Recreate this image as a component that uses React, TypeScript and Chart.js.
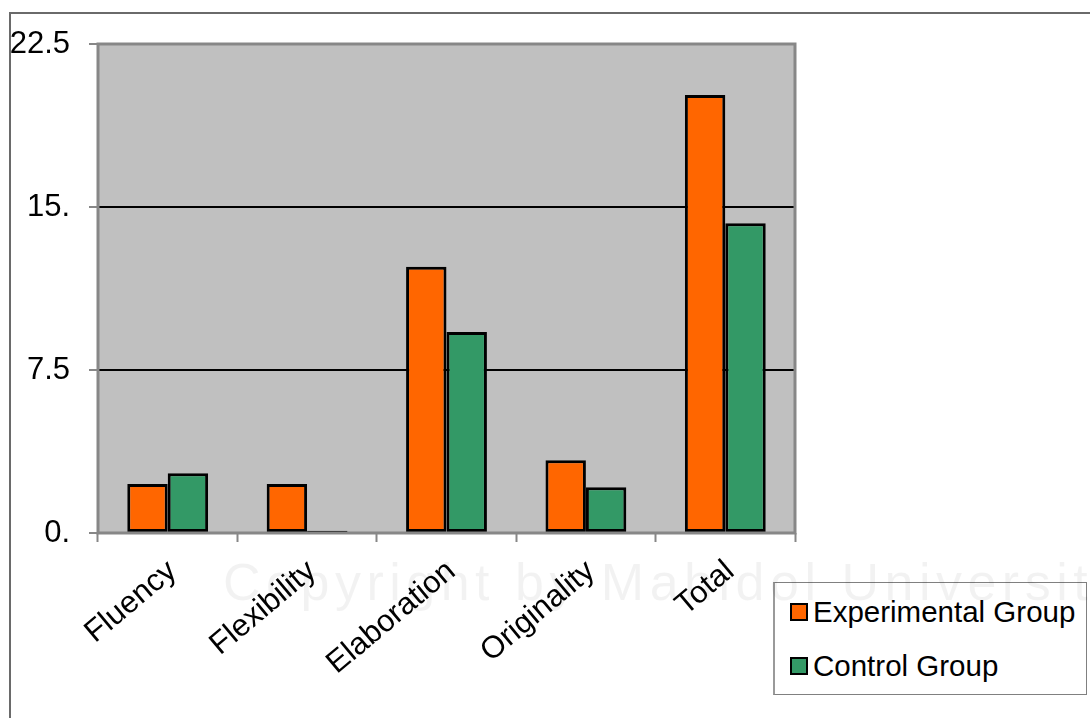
import React, { useEffect, useRef } from "react";
import { Chart, registerables } from "chart.js";

Chart.register(...registerables);

const categories = ["Fluency", "Flexibility", "Elaboration", "Originality", "Total"];
const experimentalValues = [2.25, 2.25, 12.25, 3.35, 20.15];
const controlValues = [2.75, 0.1, 9.25, 2.1, 14.25];
const seriesNames = ["Experimental Group", "Control Group"];
const seriesColors = ["#ff6600", "#339966"];
const yTickValues = [0, 7.5, 15, 22.5];
const yTickLabels = ["0.", "7.5", "15.", "22.5"];
const watermarkText = "Copyright by Mahidol University";

const FONT = "'Liberation Sans', Arial, sans-serif";
const W = 1090;
const H = 718;
const PLOT_L = 98;
const PLOT_T = 44;
const PLOT_R = 795;
const PLOT_B = 533;

const plotFramePlugin = {
  id: "plotFrame",
  beforeDraw(chart: any) {
    const { ctx, chartArea: a } = chart;
    ctx.save();
    ctx.fillStyle = "#c0c0c0";
    ctx.fillRect(a.left, a.top, a.right - a.left, a.bottom - a.top);
    ctx.restore();
  },
  afterDatasetsDraw(chart: any) {
    const { ctx, chartArea: a } = chart;
    ctx.save();
    ctx.strokeStyle = "#878787";
    ctx.lineWidth = 3;
    ctx.strokeRect(a.left, a.top, a.right - a.left, a.bottom - a.top);
    ctx.restore();
  },
};

export default function App() {
  const canvasRef = useRef<HTMLCanvasElement | null>(null);

  useEffect(() => {
    document.body.style.margin = "0";
    const canvas = canvasRef.current;
    if (!canvas) return;
    const chart = new Chart(canvas, {
      type: "bar",
      data: {
        labels: categories,
        datasets: [
          {
            label: seriesNames[0],
            data: experimentalValues,
            backgroundColor: seriesColors[0],
            borderColor: "#000000",
            borderWidth: 3,
            borderSkipped: false,
          },
          {
            label: seriesNames[1],
            data: controlValues,
            backgroundColor: seriesColors[1],
            borderColor: "#000000",
            borderWidth: 3,
            borderSkipped: false,
          },
        ],
      },
      options: {
        responsive: false,
        animation: false,
        layout: { padding: { left: 0, top: PLOT_T, right: W - PLOT_R, bottom: 0 } },
        datasets: {
          bar: { categoryPercentage: 0.58, barPercentage: 1 },
        },
        plugins: {
          legend: { display: false },
          tooltip: { enabled: false },
        },
        scales: {
          x: {
            afterFit(axis: any) {
              axis.height = H - PLOT_B;
            },
            grid: {
              offset: true,
              drawOnChartArea: false,
              drawTicks: true,
              tickLength: 9,
              tickColor: "#878787",
              tickWidth: 2,
            },
            border: { display: false },
            ticks: {
              autoSkip: false,
              maxRotation: 40,
              minRotation: 40,
              padding: 11,
              labelOffset: 5,
              color: "#000000",
              font: { family: FONT, size: 31 },
            },
          },
          y: {
            min: 0,
            max: 22.5,
            afterFit(axis: any) {
              axis.width = PLOT_L;
            },
            afterBuildTicks(axis: any) {
              axis.ticks = yTickValues.map((v) => ({ value: v }));
            },
            grid: {
              color: (c: any) =>
                c.tick && (c.tick.value === 0 || c.tick.value === 22.5) ? "rgba(0,0,0,0)" : "#000000",
              lineWidth: 2,
              drawTicks: true,
              tickLength: 9,
              tickColor: "#878787",
              tickWidth: 2,
            },
            border: { display: false },
            ticks: {
              padding: 19,
              color: "#000000",
              font: { family: FONT, size: 31 },
              callback: (_v: any, i: number) => yTickLabels[i],
            },
          },
        },
      },
      plugins: [plotFramePlugin],
    });
    return () => chart.destroy();
  }, []);

  const legendItem = (i: number, top: number) => (
    <div
      key={i}
      style={{
        position: "absolute",
        left: 15,
        top,
        height: 36,
        display: "flex",
        alignItems: "center",
        whiteSpace: "nowrap",
      }}
    >
      <div
        style={{
          width: 14,
          height: 14,
          border: "2px solid #000",
          background: seriesColors[i],
          marginRight: 5,
        }}
      />
      <span style={{ font: `29.5px ${FONT}`, color: "#000" }}>{seriesNames[i]}</span>
    </div>
  );

  return (
    <div style={{ position: "relative", width: W, height: H, overflow: "hidden", background: "#fff" }}>
      <div
        style={{
          position: "absolute",
          left: 9,
          top: 12,
          width: W,
          height: H,
          border: "2px solid #6a6a6a",
        }}
      />
      <canvas ref={canvasRef} width={W} height={H} style={{ position: "absolute", left: 0, top: 0 }} />
      <div
        style={{
          position: "absolute",
          left: 773,
          top: 582,
          width: 311,
          height: 111,
          border: "1px solid #808080",
          borderLeft: "2px solid #9a9a9a",
          background: "#fff",
        }}
      >
        {legendItem(0, 11)}
        {legendItem(1, 65)}
      </div>
      <div
        style={{
          position: "absolute",
          left: 223,
          top: 552,
          font: `52px ${FONT}`,
          lineHeight: "normal",
          letterSpacing: 5.5,
          color: "rgba(0,0,0,0.05)",
          whiteSpace: "nowrap",
          pointerEvents: "none",
        }}
      >
        {watermarkText}
      </div>
    </div>
  );
}
